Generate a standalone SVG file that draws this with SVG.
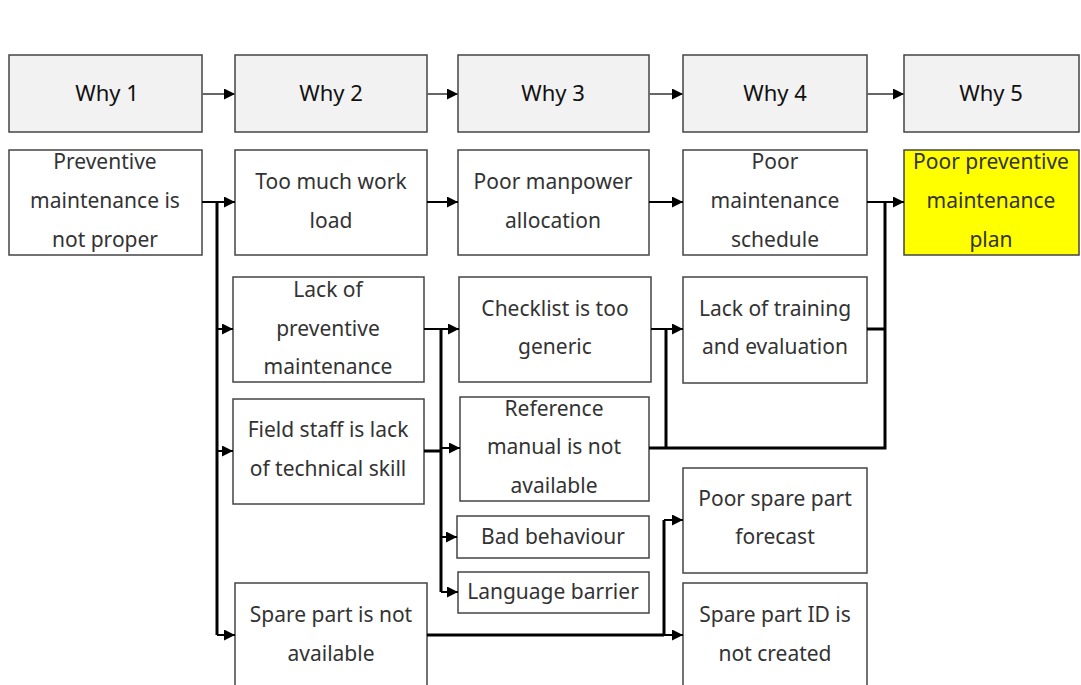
<svg xmlns="http://www.w3.org/2000/svg" width="1081" height="685" viewBox="0 0 1081 685">
<style>
.hd{fill:#f2f2f2;stroke:#444;stroke-width:1.5}
.bx{fill:#fff;stroke:#444;stroke-width:1.5}
.yl{fill:#ffff00;stroke:#444;stroke-width:1.5}
text{font-family:"Noto Sans","DejaVu Sans",sans-serif;font-size:21px;fill:#333;text-anchor:middle}
.ht{font-size:22px;fill:#111}
.hc{fill:none;stroke:#666;stroke-width:2}
.c{fill:none;stroke:#000;stroke-width:2}
.t{fill:none;stroke:#000;stroke-width:3}
</style>
<defs>
<marker id="ah" markerUnits="userSpaceOnUse" markerWidth="13" markerHeight="11" refX="11" refY="5.5" orient="auto">
<path d="M0,0 L11,5.5 L0,11 Z" fill="#000"/>
</marker>
</defs>
<rect width="1081" height="685" fill="#fff"/>
<g id="headers">
<g id="why1"><rect class="hd" x="9" y="55" width="193" height="77"/><text class="ht" x="107" y="101">Why 1</text></g>
<g id="why2"><rect class="hd" x="235" y="55" width="192" height="77"/><text class="ht" x="331" y="101">Why 2</text></g>
<g id="why3"><rect class="hd" x="458" y="55" width="191" height="77"/><text class="ht" x="553" y="101">Why 3</text></g>
<g id="why4"><rect class="hd" x="683" y="55" width="184" height="77"/><text class="ht" x="775" y="101">Why 4</text></g>
<g id="why5"><rect class="hd" x="904" y="55" width="175" height="77"/><text class="ht" x="991" y="101">Why 5</text></g>
</g>
<g id="n1"><rect class="bx" x="9" y="150" width="193" height="105"/>
<text x="105" y="169">Preventive</text><text x="105" y="208">maintenance is</text><text x="105" y="247">not proper</text></g>
<g id="n2"><rect class="bx" x="235" y="150" width="192" height="105"/>
<text x="331" y="189">Too much work</text><text x="331" y="228">load</text></g>
<g id="n3"><rect class="bx" x="458" y="150" width="191" height="105"/>
<text x="553" y="189">Poor manpower</text><text x="553" y="228">allocation</text></g>
<g id="n4"><rect class="bx" x="683" y="150" width="184" height="105"/>
<text x="775" y="169">Poor</text><text x="775" y="208">maintenance</text><text x="775" y="247">schedule</text></g>
<g id="n5"><rect class="yl" x="904" y="150" width="175" height="105"/>
<text x="991" y="169">Poor preventive</text><text x="991" y="208">maintenance</text><text x="991" y="247">plan</text></g>
<g id="n6"><rect class="bx" x="233" y="277" width="191" height="105"/>
<text x="328" y="297">Lack of</text><text x="328" y="336">preventive</text><text x="328" y="374">maintenance</text></g>
<g id="n7"><rect class="bx" x="459" y="277" width="192" height="105"/>
<text x="555" y="316">Checklist is too</text><text x="555" y="354">generic</text></g>
<g id="n8"><rect class="bx" x="683" y="277" width="184" height="106"/>
<text x="775" y="316">Lack of training</text><text x="775" y="354">and evaluation</text></g>
<g id="n9"><rect class="bx" x="233" y="399" width="191" height="105"/>
<text x="328" y="437">Field staff is lack</text><text x="328" y="476">of technical skill</text></g>
<g id="n10"><rect class="bx" x="460" y="397" width="189" height="104"/>
<text x="554" y="416">Reference</text><text x="554" y="454">manual is not</text><text x="554" y="493">available</text></g>
<g id="n11"><rect class="bx" x="457" y="516" width="192" height="42"/>
<text x="553" y="544">Bad behaviour</text></g>
<g id="n12"><rect class="bx" x="458" y="572" width="191" height="41"/>
<text x="553" y="599">Language barrier</text></g>
<g id="n13"><rect class="bx" x="683" y="468" width="184" height="105"/>
<text x="775" y="506">Poor spare part</text><text x="775" y="544">forecast</text></g>
<g id="n14"><rect class="bx" x="683" y="583" width="184" height="110"/>
<text x="775" y="622">Spare part ID is</text><text x="775" y="661">not created</text></g>
<g id="n15"><rect class="bx" x="235" y="583" width="192" height="110"/>
<text x="331" y="622">Spare part is not</text><text x="331" y="661">available</text></g>
<g id="connectors">
<path class="hc" d="M202,94 H235" marker-end="url(#ah)"/>
<path class="hc" d="M427,94 H458" marker-end="url(#ah)"/>
<path class="hc" d="M649,94 H683" marker-end="url(#ah)"/>
<path class="hc" d="M867,94 H904" marker-end="url(#ah)"/>
<path class="c" d="M202,202 H217"/>
<path class="t" d="M217,202 V635"/>
<path class="c" d="M217,202 H235" marker-end="url(#ah)"/>
<path class="c" d="M217,329 H233" marker-end="url(#ah)"/>
<path class="c" d="M217,451 H233" marker-end="url(#ah)"/>
<path class="c" d="M217,635 H235" marker-end="url(#ah)"/>
<path class="c" d="M427,202 H458" marker-end="url(#ah)"/>
<path class="c" d="M649,202 H683" marker-end="url(#ah)"/>
<path class="c" d="M867,202 H904" marker-end="url(#ah)"/>
<path class="t" d="M885,202 V448 H649"/>
<path class="t" d="M867,329 H885"/>
<path class="c" d="M424,329 H441"/>
<path class="t" d="M441,329 V592"/>
<path class="c" d="M441,329 H459" marker-end="url(#ah)"/>
<path class="t" d="M424,451 H441"/>
<path class="c" d="M441,448 H460" marker-end="url(#ah)"/>
<path class="c" d="M441,537 H457" marker-end="url(#ah)"/>
<path class="c" d="M441,592 H458" marker-end="url(#ah)"/>
<path class="c" d="M651,329 H666"/>
<path class="t" d="M666,329 V448"/>
<path class="c" d="M666,329 H683" marker-end="url(#ah)"/>
<path class="t" d="M427,635 H664"/>
<path class="t" d="M664,520 V635"/>
<path class="c" d="M664,520 H683" marker-end="url(#ah)"/>
<path class="c" d="M664,635 H683" marker-end="url(#ah)"/>
</g>
</svg>
